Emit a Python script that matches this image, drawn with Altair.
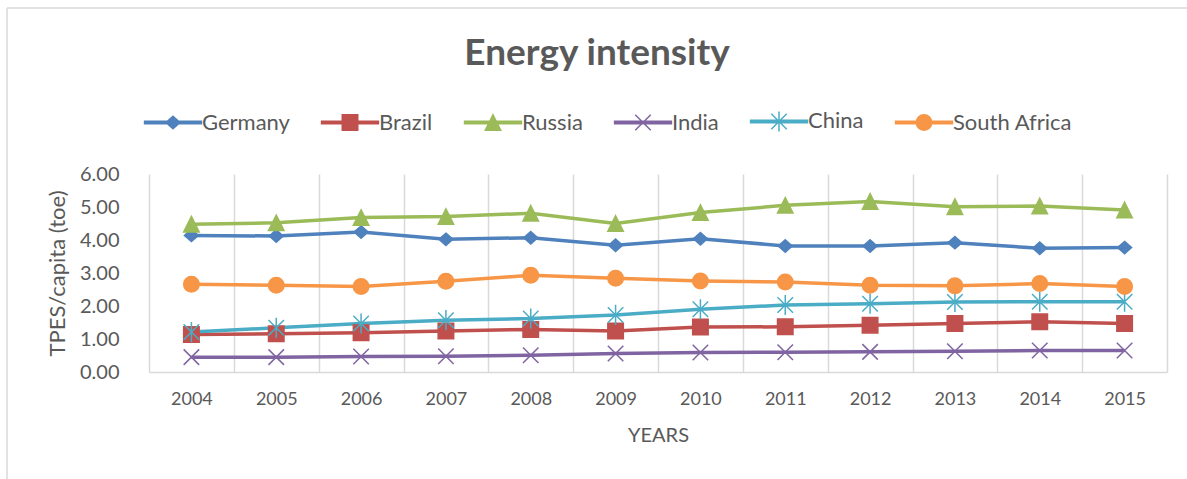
import altair as alt
import pandas as pd

# Total primary energy supply per capita (toe), 2004-2015
years = [2004, 2005, 2006, 2007, 2008, 2009, 2010, 2011, 2012, 2013, 2014, 2015]
countries = ["Germany", "Brazil", "Russia", "India", "China", "South Africa"]

germany = [4.14, 4.12, 4.24, 4.02, 4.07, 3.84, 4.04, 3.82, 3.82, 3.92, 3.75, 3.77]
brazil = [1.14, 1.16, 1.19, 1.24, 1.29, 1.24, 1.36, 1.37, 1.42, 1.47, 1.52, 1.47]
russia = [4.48, 4.52, 4.68, 4.71, 4.81, 4.50, 4.83, 5.05, 5.17, 5.01, 5.03, 4.91]
india = [0.45, 0.45, 0.47, 0.48, 0.51, 0.56, 0.59, 0.60, 0.61, 0.63, 0.65, 0.65]
china = [1.21, 1.34, 1.47, 1.57, 1.62, 1.73, 1.90, 2.03, 2.07, 2.12, 2.13, 2.13]
south_africa = [2.66, 2.63, 2.59, 2.75, 2.93, 2.84, 2.76, 2.73, 2.63, 2.61, 2.68, 2.59]

series_values = [germany, brazil, russia, india, china, south_africa]

colors = ["#4F81BD", "#C0504D", "#9BBB59", "#8064A2", "#4BACC6", "#F79646"]
# marker outlines in a unit box: diamond, square, triangle, x, asterisk, circle
marker_paths = [
    "M0,-0.8L0.9,0L0,0.8L-0.9,0Z",
    "M-1,-1H1V1H-1Z",
    "M0,-1L1,1H-1Z",
    "M-1,-1L1,1M-1,1L1,-1",
    "M-1,-1L1,1M-1,1L1,-1M0,-1.3V1.3",
    "M1,0A1,1 0 1,1 -1,0A1,1 0 1,1 1,0Z",
]
# legend keys: a short line segment with the marker on it
legend_stroke = "M-3.67,-0.17H3.67V0.17H-3.67Z"
legend_paths = [legend_stroke + p for p in marker_paths]

rows = [
    {"year": y, "country": c, "value": v}
    for c, vals in zip(countries, series_values)
    for y, v in zip(years, vals)
]
df = pd.DataFrame(rows)

TEXT = "#595959"
GRID = "#D9D9D9"
FONT = "Lato"

color_scale = alt.Scale(domain=countries, range=colors)

legend = alt.Legend(
    title=None,
    orient="none",
    legendX=13,
    legendY=-64,
    direction="horizontal",
    columns=6,
    padding=0,
    labelFont=FONT,
    labelFontSize=22,
    labelColor=TEXT,
    labelOffset=18,
    columnPadding=28,
    symbolSize=240,
    symbolStrokeWidth=1.5,
    symbolOpacity=1,
)

x_enc = alt.X(
    "year:O",
    scale=alt.Scale(type="band", paddingInner=0, paddingOuter=0),
    axis=alt.Axis(
        title="YEARS",
        labelAngle=0,
        tickBand="extent",
        ticks=False,
        grid=True,
        gridColor=GRID,
        gridWidth=1.5,
        domainColor=GRID,
        domainWidth=1.5,
        labelFont=FONT,
        labelFontSize=18,
        labelColor=TEXT,
        labelPadding=18,
        titleFont=FONT,
        titleFontSize=20,
        titleFontWeight="normal",
        titleColor=TEXT,
        titlePadding=17,
    ),
)
y_enc = alt.Y(
    "value:Q",
    scale=alt.Scale(domain=[0, 6], nice=False),
    axis=alt.Axis(
        title="TPES/capita (toe)",
        values=[0, 1, 2, 3, 4, 5, 6],
        format=".2f",
        grid=False,
        domain=False,
        ticks=False,
        labelFont=FONT,
        labelFontSize=20,
        labelColor=TEXT,
        labelPadding=30,
        titleFont=FONT,
        titleFontSize=22,
        titleFontWeight="normal",
        titleColor=TEXT,
        titlePadding=10,
    ),
)

lines = alt.Chart(df).mark_line(strokeWidth=3.5).encode(
    x=x_enc,
    y=y_enc,
    color=alt.Color("country:N", scale=color_scale, legend=None),
)

# one marker layer per series, each with its own marker shape
marker_layers = [
    alt.Chart(df)
    .transform_filter(alt.datum.country == c)
    .mark_point(shape=p, filled=True, size=240, strokeWidth=1.5, opacity=1)
    .encode(
        x=x_enc,
        y=y_enc,
        color=alt.Color("country:N", scale=color_scale, legend=None),
        stroke=alt.Stroke("country:N", scale=color_scale, legend=None),
    )
    for c, p in zip(countries, marker_paths)
]

# legend-only layer: no rows are drawn, its scales carry the legend keys
legend_layer = (
    alt.Chart(df)
    .transform_filter("false")
    .mark_point(filled=True, size=240, strokeWidth=1.5, opacity=1)
    .encode(
        x=x_enc,
        y=y_enc,
        color=alt.Color("country:N", scale=color_scale, legend=legend),
        stroke=alt.Stroke("country:N", scale=color_scale, legend=legend),
        shape=alt.Shape(
            "country:N",
            scale=alt.Scale(domain=countries, range=legend_paths),
            legend=legend,
        ),
    )
)

# chart-area frame along the top and left edges
frame = pd.DataFrame({"edge": ["frame"]})
frame_top = alt.Chart(frame).mark_rule(color=GRID, strokeWidth=1.5).encode(
    x=alt.value(-142), x2=alt.value(1038), y=alt.value(-166)
)
frame_left = alt.Chart(frame).mark_rule(color=GRID, strokeWidth=1.5).encode(
    x=alt.value(-142), y=alt.value(-166), y2=alt.value(305)
)

chart = (
    alt.layer(frame_top, frame_left, lines, *marker_layers, legend_layer)
    .resolve_legend(color="independent", stroke="independent", shape="independent")
    .properties(
        width=1018,
        height=198,
        title=alt.TitleParams(
            "Energy intensity",
            font=FONT,
            fontSize=37,
            fontWeight="bold",
            color=TEXT,
            anchor="middle",
            frame="bounds",
            baseline="alphabetic",
            offset=-95,
        ),
        padding={"left": 149, "top": 174, "right": 20, "bottom": 107},
        autosize=alt.AutoSizeParams(type="none"),
        background="white",
    )
    .configure_view(stroke=None)
)

chart.save("out.html", embed_options={"renderer": "svg", "actions": False})
